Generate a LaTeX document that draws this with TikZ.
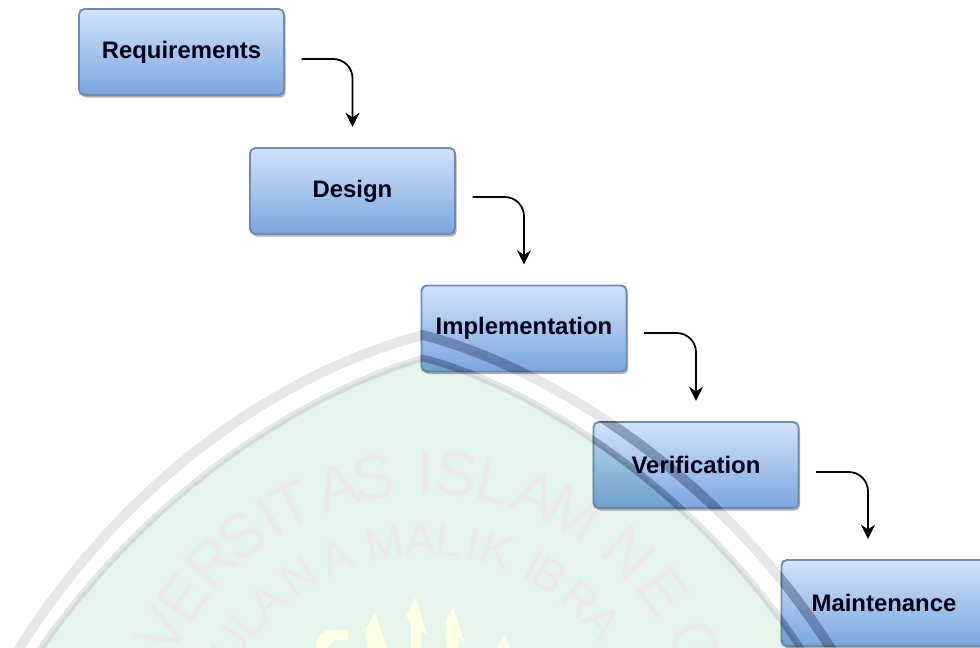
\documentclass[tikz,border=0pt]{standalone}
\usepackage{fontspec}
\setmainfont{Liberation Sans}
\usetikzlibrary{arrows.meta,shadows}

\definecolor{boxtop}{HTML}{D2E2FA}
\definecolor{boxbottom}{HTML}{7CA6DF}
\definecolor{boxedge}{HTML}{6F8CAF}
\definecolor{sealgreen}{HTML}{E5F5EC}
\definecolor{sealband}{HTML}{E7E7E7}
\definecolor{sealtext}{HTML}{ECE9EA}
\definecolor{sealgold}{HTML}{FFFFE6}
\definecolor{banddark}{HTML}{C6CCD8}

\tikzset{
  stepbox/.style={draw=boxedge, line width=1.1pt, rounded corners=3pt, top color=boxtop, bottom color=boxbottom,
    minimum width=4.1cm, minimum height=1.72cm, inner sep=0pt, text=black!90!blue,
    font=\fontsize{13.6}{16}\selectfont\bfseries,
    drop shadow={shadow xshift=1pt, shadow yshift=-1.5pt, opacity=0.3, fill=black}},
  flow/.style={->, line width=1pt, rounded corners=11pt, shorten <=9.5pt, shorten >=11.5pt},
  sealouter/.style={text=sealtext, inner sep=0pt, font=\fontsize{35.6}{36}\selectfont},
  sealinner/.style={text=sealtext, inner sep=0pt, font=\fontsize{26}{27}\selectfont},
}

\begin{document}
\begin{tikzpicture}[>={Stealth[length=8pt,width=8pt]}, x=0.02cm, y=-0.02cm]

\useasboundingbox (0,0) rectangle (980,647);

% parameters
\def\sealx{425}
\def\sealy{771}
\def\radiusOuter{298}
\def\radiusInner{232}
\def\outerband{(15,655) .. controls (130,470) and (290,370) .. (423,335) .. controls (540,365) and (720,470) .. (835,655)}
\def\innerband{(36,655) .. controls (150,490) and (300,395) .. (423,358) .. controls (530,385) and (700,490) .. (805,655)}

% seal ground
\fill[sealgreen] \innerband -- cycle;

% seal lettering, outer ring
\foreach \ch/\ang [count=\i] in {V/62,E/54.4,R/45.5,S/37.9,I/31.5,T/26.5,A/17.2,S/10,I/0,S/6,L/13.4,A/21.8,M/30,N/43,E/53,G/65}{
  \pgfmathsetmacro{\px}{\sealx + \radiusOuter*sin(\ang*(\i<9 ? -1 : 1))}
  \pgfmathsetmacro{\py}{\sealy - \radiusOuter*cos(\ang)}
  \pgfmathsetmacro{\rot}{\ang*(\i<9 ? 1 : -1)}
  \node[sealouter, rotate=\rot] (outer\i) at (\px,\py) {\ch};
}

% seal lettering, inner ring
\foreach \ch/\ang [count=\i] in {U/-57,L/-50,A/-43,N/-33,A/-22.5,M/-10,A/-1,L/6,I/12,K/18,I/27.8,B/32.4,R/42,A/50}{
  \pgfmathsetmacro{\px}{\sealx + \radiusInner*sin(\ang)}
  \pgfmathsetmacro{\py}{\sealy - \radiusInner*cos(\ang)}
  \node[sealinner, rotate=-\ang] (inner\i) at (\px,\py) {\ch};
}

% emblem tips
\fill[sealgold] (375,613) -- (366,628) -- (368,650) -- (388,650) -- cycle;
\fill[sealgold] (416,597) -- (406,616) -- (411,622) -- (411,650) -- (421,650) -- (421,630) -- (427,635) -- cycle;
\fill[sealgold] (453,608) -- (446,620) -- (447,650) -- (458,650) -- (459,638) -- (465,642) -- cycle;
\fill[sealgold] (505,635) -- (495,650) -- (511,650) -- cycle;
\fill[sealgold] (316,650) -- (318,635) -- (328,630) -- (348,630) -- (348,640) -- (334,640) -- (326,650) -- cycle;

% steps
\node[stepbox] (req) at (181.5,52) {Requirements};
\node[stepbox] (design) at (352.5,191) {Design};
\node[stepbox] (impl) at (524,328.5) {Implementation};
\node[stepbox] (verif) at (696,465) {Verification};
\node[stepbox] (maint) at (884,603) {Maintenance};

% arrows between steps
\draw[flow] ([yshift=-0.14cm]req.east) -| (design.north);
\draw[flow] ([yshift=-0.12cm]design.east) -| (impl.north);
\draw[flow] ([yshift=-0.09cm]impl.east) -| (verif.north);
\draw[flow] ([yshift=-0.14cm]verif.east) -| ([xshift=-0.32cm]maint.north);

% seal bands tint what they cross
\begin{scope}[blend mode=multiply]
  \draw[sealband, line width=5.6pt] \outerband;
  \draw[sealband, line width=3.8pt] \innerband;
\end{scope}

% on the boxes the seal shows darker
\begin{scope}[blend mode=multiply]
  \clip (impl.north west) rectangle (impl.south east)
        (verif.north west) rectangle (verif.south east)
        (maint.north west) rectangle (maint.south east);
  \fill[sealgreen] \innerband -- cycle;
  \draw[banddark, line width=5.6pt] \outerband;
  \draw[banddark, line width=3.8pt] \innerband;
\end{scope}

\end{tikzpicture}
\end{document}
